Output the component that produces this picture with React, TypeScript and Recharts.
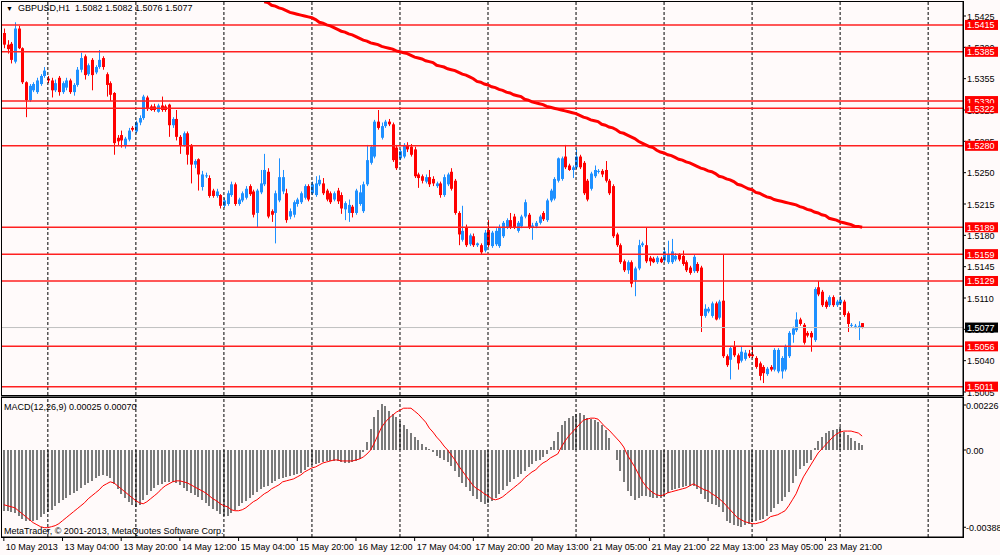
import React from 'react';
import { ComposedChart, Bar, Line, XAxis, YAxis, ReferenceLine } from 'recharts';

// GBPUSD H1 candles, [open, high, low, close]
const OHLC: number[][] = [
  [1.5406, 1.5411, 1.5389, 1.5393], [1.5393, 1.5398, 1.5383, 1.5388], [1.5394, 1.5396, 1.5372, 1.5376], [1.5374, 1.5418, 1.5372, 1.5411],
  [1.5411, 1.5414, 1.5388, 1.5389], [1.5389, 1.539, 1.5349, 1.5351], [1.5351, 1.5352, 1.5312, 1.5331], [1.5331, 1.5349, 1.5329, 1.5347],
  [1.5342, 1.5351, 1.534, 1.5349], [1.534, 1.5356, 1.5338, 1.5353], [1.5349, 1.536, 1.5347, 1.5358], [1.5358, 1.5368, 1.5356, 1.5364],
  [1.5355, 1.5358, 1.535, 1.5353], [1.5353, 1.5356, 1.5334, 1.5342], [1.5342, 1.5354, 1.534, 1.535], [1.5356, 1.5358, 1.5336, 1.534],
  [1.534, 1.5352, 1.5338, 1.535], [1.5345, 1.5356, 1.5342, 1.5353], [1.5353, 1.5355, 1.5338, 1.534], [1.534, 1.535, 1.5336, 1.5348],
  [1.5348, 1.5368, 1.5346, 1.5365], [1.5365, 1.5384, 1.5362, 1.5378], [1.538, 1.5382, 1.5354, 1.5359], [1.536, 1.5372, 1.5358, 1.537],
  [1.5376, 1.5378, 1.5342, 1.5359], [1.5362, 1.537, 1.536, 1.5368], [1.5368, 1.5387, 1.5366, 1.5376], [1.5378, 1.538, 1.5365, 1.5368],
  [1.536, 1.5362, 1.5335, 1.5348], [1.535, 1.5352, 1.533, 1.5337], [1.5339, 1.534, 1.527, 1.5283], [1.5289, 1.5292, 1.528, 1.5285],
  [1.5292, 1.5297, 1.5278, 1.5286], [1.528, 1.529, 1.5277, 1.5288], [1.5287, 1.53, 1.5285, 1.5297], [1.53, 1.5302, 1.5296, 1.5298],
  [1.5296, 1.5308, 1.5294, 1.5306], [1.5306, 1.5314, 1.5303, 1.5311], [1.5311, 1.5337, 1.5309, 1.5335], [1.5334, 1.5336, 1.5319, 1.5321],
  [1.5324, 1.5326, 1.5319, 1.532], [1.5324, 1.5327, 1.5318, 1.532], [1.5318, 1.5327, 1.5317, 1.5325], [1.5325, 1.5335, 1.5318, 1.532],
  [1.5324, 1.5326, 1.5318, 1.532], [1.5326, 1.5327, 1.529, 1.5303], [1.5303, 1.5312, 1.53, 1.531], [1.531, 1.532, 1.5286, 1.529],
  [1.529, 1.5292, 1.5271, 1.528], [1.5281, 1.5296, 1.5279, 1.5294], [1.5294, 1.5296, 1.5259, 1.527], [1.5281, 1.5282, 1.5238, 1.5259],
  [1.5259, 1.5265, 1.5255, 1.5263], [1.5265, 1.5266, 1.523, 1.5248], [1.5234, 1.5252, 1.523, 1.5248], [1.5246, 1.525, 1.5244, 1.5247],
  [1.5244, 1.5247, 1.5222, 1.5224], [1.523, 1.5232, 1.5222, 1.5224], [1.5224, 1.5232, 1.5222, 1.5229], [1.5225, 1.5226, 1.521, 1.5213],
  [1.5213, 1.5222, 1.5211, 1.5219], [1.5215, 1.523, 1.5213, 1.5227], [1.5225, 1.524, 1.5223, 1.5237], [1.5237, 1.5239, 1.5213, 1.5215],
  [1.5215, 1.5222, 1.5213, 1.522], [1.5219, 1.5229, 1.5217, 1.5227], [1.5222, 1.5235, 1.522, 1.5232], [1.5235, 1.5237, 1.5224, 1.5226],
  [1.5229, 1.5231, 1.52, 1.5203], [1.5205, 1.5232, 1.5189, 1.523], [1.5228, 1.5253, 1.5226, 1.5238], [1.5237, 1.5271, 1.5235, 1.5253],
  [1.5251, 1.5255, 1.5199, 1.5201], [1.5207, 1.5209, 1.5195, 1.5203], [1.5205, 1.523, 1.5171, 1.5227], [1.5219, 1.5266, 1.5217, 1.5245],
  [1.5229, 1.5253, 1.5226, 1.5245], [1.5227, 1.5232, 1.5194, 1.5197], [1.5201, 1.521, 1.5198, 1.5207], [1.5203, 1.5219, 1.52, 1.5217],
  [1.5215, 1.5222, 1.5212, 1.522], [1.5217, 1.5229, 1.5215, 1.5227], [1.5222, 1.5237, 1.522, 1.5235], [1.5235, 1.5237, 1.5218, 1.522],
  [1.5227, 1.524, 1.5225, 1.5237], [1.5225, 1.5246, 1.5223, 1.5238], [1.5237, 1.5247, 1.5235, 1.5242], [1.5238, 1.5244, 1.5225, 1.5227],
  [1.523, 1.5232, 1.5218, 1.522], [1.5227, 1.5229, 1.5215, 1.5217], [1.522, 1.5229, 1.5218, 1.5227], [1.523, 1.5233, 1.5215, 1.5218],
  [1.5225, 1.5228, 1.5204, 1.521], [1.5209, 1.5218, 1.5197, 1.5216], [1.5205, 1.522, 1.5195, 1.5214], [1.5212, 1.5214, 1.52, 1.5205],
  [1.5205, 1.5232, 1.5203, 1.523], [1.5215, 1.5236, 1.5213, 1.5228], [1.5207, 1.524, 1.5205, 1.5237], [1.5237, 1.5281, 1.5235, 1.5264],
  [1.5261, 1.5281, 1.5259, 1.5279], [1.5268, 1.5309, 1.5266, 1.5307], [1.5307, 1.532, 1.5298, 1.53], [1.5289, 1.5306, 1.5287, 1.5302],
  [1.5302, 1.5309, 1.53, 1.5307], [1.5307, 1.531, 1.5302, 1.5304], [1.5304, 1.5306, 1.5262, 1.5264], [1.5278, 1.5281, 1.5253, 1.5255],
  [1.5266, 1.5276, 1.5264, 1.5274], [1.5268, 1.5283, 1.5266, 1.5281], [1.5281, 1.5284, 1.5273, 1.5276], [1.5279, 1.5282, 1.5268, 1.527],
  [1.5276, 1.5279, 1.5244, 1.5246], [1.5248, 1.525, 1.5233, 1.5244], [1.5246, 1.5248, 1.5238, 1.5241], [1.524, 1.5248, 1.5238, 1.5245],
  [1.5245, 1.5253, 1.5234, 1.5237], [1.5243, 1.5246, 1.5235, 1.5238], [1.5235, 1.524, 1.5233, 1.5238], [1.5238, 1.524, 1.5222, 1.5225],
  [1.5225, 1.5248, 1.5223, 1.5245], [1.5237, 1.525, 1.5235, 1.5248], [1.5251, 1.5255, 1.523, 1.5232], [1.5241, 1.5243, 1.5203, 1.5205],
  [1.5205, 1.5207, 1.5169, 1.5181], [1.5175, 1.5213, 1.5173, 1.5185], [1.5189, 1.5192, 1.5167, 1.5169], [1.517, 1.5182, 1.5168, 1.518],
  [1.5179, 1.5182, 1.5167, 1.5169], [1.5169, 1.5172, 1.5167, 1.5171], [1.5169, 1.5171, 1.5158, 1.5161], [1.5163, 1.5186, 1.5161, 1.5183],
  [1.5186, 1.5197, 1.5167, 1.5169], [1.5168, 1.5185, 1.5166, 1.5183], [1.517, 1.5188, 1.5168, 1.5185], [1.5168, 1.5192, 1.5166, 1.5189],
  [1.5179, 1.5196, 1.5177, 1.5194], [1.5189, 1.5199, 1.5187, 1.5197], [1.5197, 1.5205, 1.5187, 1.5189], [1.5201, 1.5204, 1.5187, 1.5189],
  [1.5185, 1.5196, 1.5183, 1.5194], [1.519, 1.5203, 1.5188, 1.5201], [1.5201, 1.522, 1.5199, 1.5217], [1.5203, 1.5205, 1.5187, 1.5189],
  [1.5189, 1.5194, 1.5175, 1.5191], [1.519, 1.5196, 1.5188, 1.5194], [1.5194, 1.5203, 1.5192, 1.5201], [1.5205, 1.5207, 1.5196, 1.5198],
  [1.5197, 1.5221, 1.5195, 1.5219], [1.5219, 1.5232, 1.5217, 1.523], [1.5221, 1.5245, 1.5219, 1.5243], [1.5241, 1.5267, 1.5239, 1.5266],
  [1.5243, 1.5268, 1.5241, 1.5266], [1.5268, 1.5281, 1.5254, 1.5256], [1.5258, 1.526, 1.5252, 1.5253], [1.5253, 1.5258, 1.5244, 1.5256],
  [1.5256, 1.5276, 1.5254, 1.5268], [1.5268, 1.527, 1.5254, 1.5256], [1.5261, 1.5263, 1.5225, 1.5227], [1.5241, 1.5243, 1.5218, 1.522],
  [1.5232, 1.5251, 1.523, 1.5249], [1.5246, 1.5258, 1.5244, 1.5253], [1.5251, 1.5254, 1.5249, 1.5252], [1.5252, 1.5254, 1.5245, 1.5248],
  [1.5253, 1.5263, 1.5239, 1.5241], [1.5241, 1.5243, 1.5225, 1.5227], [1.5235, 1.5237, 1.5177, 1.5179], [1.5181, 1.5183, 1.5167, 1.5169],
  [1.5169, 1.5171, 1.5148, 1.515], [1.5151, 1.5153, 1.5139, 1.5141], [1.5141, 1.5152, 1.5137, 1.515], [1.515, 1.5152, 1.5122, 1.5126],
  [1.513, 1.5145, 1.5112, 1.5143], [1.5143, 1.5175, 1.5141, 1.5169], [1.5169, 1.5173, 1.5167, 1.5171], [1.5169, 1.5189, 1.5149, 1.5151],
  [1.5155, 1.5157, 1.5146, 1.5151], [1.5154, 1.5156, 1.5149, 1.515], [1.515, 1.5157, 1.5148, 1.5155], [1.5154, 1.5156, 1.5149, 1.515],
  [1.5152, 1.5166, 1.515, 1.5162], [1.515, 1.5174, 1.5148, 1.5158], [1.515, 1.5176, 1.5148, 1.5162], [1.5153, 1.516, 1.5151, 1.5157],
  [1.5158, 1.516, 1.5151, 1.5153], [1.5157, 1.5163, 1.5146, 1.5148], [1.515, 1.5152, 1.5139, 1.5141], [1.5144, 1.5146, 1.5136, 1.5138],
  [1.514, 1.5158, 1.5138, 1.5156], [1.5148, 1.515, 1.5138, 1.514], [1.5144, 1.5146, 1.5072, 1.509], [1.509, 1.5103, 1.5088, 1.5098],
  [1.5095, 1.51, 1.5093, 1.5098], [1.509, 1.5106, 1.5088, 1.5104], [1.5104, 1.5106, 1.5085, 1.5086], [1.5088, 1.5108, 1.5086, 1.5106],
  [1.5107, 1.5158, 1.5043, 1.5045], [1.5045, 1.5047, 1.5033, 1.5035], [1.5041, 1.5056, 1.5019, 1.5054], [1.5056, 1.5062, 1.5044, 1.5046],
  [1.5046, 1.5048, 1.503, 1.5037], [1.504, 1.5056, 1.5038, 1.505], [1.5042, 1.5052, 1.504, 1.5049], [1.5048, 1.5052, 1.5043, 1.5045],
  [1.5047, 1.5056, 1.5043, 1.5045], [1.5043, 1.5045, 1.5031, 1.5033], [1.5037, 1.5039, 1.5018, 1.5023], [1.5033, 1.5035, 1.5015, 1.5026],
  [1.5025, 1.5033, 1.5023, 1.5031], [1.5033, 1.5035, 1.5028, 1.503], [1.503, 1.5054, 1.5028, 1.5052], [1.5028, 1.5054, 1.5026, 1.5052],
  [1.5028, 1.5045, 1.502, 1.5043], [1.503, 1.5058, 1.5028, 1.5056], [1.5045, 1.5073, 1.5043, 1.5071], [1.5069, 1.5078, 1.506, 1.5076],
  [1.5074, 1.5094, 1.5072, 1.5086], [1.5086, 1.5088, 1.5079, 1.5081], [1.508, 1.5082, 1.5058, 1.506], [1.5071, 1.5073, 1.5066, 1.5068],
  [1.5071, 1.5073, 1.505, 1.5066], [1.5063, 1.5122, 1.5061, 1.512], [1.5122, 1.5129, 1.5112, 1.5114], [1.5117, 1.5119, 1.51, 1.5102],
  [1.5106, 1.5108, 1.5098, 1.51], [1.5102, 1.5113, 1.51, 1.5111], [1.5111, 1.5113, 1.51, 1.5102], [1.5102, 1.5108, 1.51, 1.5106],
  [1.5104, 1.5112, 1.5102, 1.5108], [1.5106, 1.5108, 1.5089, 1.5091], [1.5093, 1.5095, 1.5072, 1.5081], [1.5079, 1.5082, 1.5077, 1.508],
  [1.5078, 1.5081, 1.5076, 1.5079], [1.5077, 1.5084, 1.5063, 1.5079], [1.5082, 1.5082, 1.5076, 1.5077],
];

// moving average, visible from bar 71 on (it runs off the top before that)
const MA_START = 71;
const MA = [
  1.5441, 1.544, 1.5437, 1.5436, 1.5434, 1.5433, 1.5431, 1.5429, 1.5428, 1.5427,
  1.5426, 1.5425, 1.5424, 1.5423, 1.5421, 1.5418, 1.5417, 1.5415, 1.5414, 1.5412,
  1.541, 1.5408, 1.5407, 1.5405, 1.5404, 1.5402, 1.54, 1.5398, 1.5397, 1.5395,
  1.5394, 1.5393, 1.5391, 1.539, 1.5389, 1.5388, 1.5386, 1.5385, 1.5384, 1.5383,
  1.5381, 1.5379, 1.5378, 1.5377, 1.5375, 1.5374, 1.5373, 1.537, 1.5369, 1.5368,
  1.5366, 1.5365, 1.5364, 1.5362, 1.536, 1.5359, 1.5357, 1.5355, 1.5352, 1.5351,
  1.5349, 1.5348, 1.5346, 1.5345, 1.5343, 1.5342, 1.534, 1.5339, 1.5337, 1.5336,
  1.5335, 1.5332, 1.5331, 1.5329, 1.5328, 1.5327, 1.5326, 1.5324, 1.5323, 1.5322,
  1.5321, 1.532, 1.5319, 1.5318, 1.5317, 1.5316, 1.5314, 1.5312, 1.5311, 1.5309,
  1.5308, 1.5307, 1.5304, 1.5303, 1.5301, 1.53, 1.5298, 1.5295, 1.5294, 1.5292,
  1.529, 1.5288, 1.5285, 1.5283, 1.5281, 1.5279, 1.5278, 1.5275, 1.5273, 1.5272,
  1.527, 1.5269, 1.5267, 1.5265, 1.5264, 1.5262, 1.5261, 1.5259, 1.5257, 1.5255,
  1.5254, 1.5252, 1.5251, 1.5249, 1.5246, 1.5245, 1.5243, 1.5242, 1.524, 1.5237,
  1.5236, 1.5234, 1.5232, 1.5231, 1.5228, 1.5227, 1.5225, 1.5223, 1.5222, 1.522,
  1.5219, 1.5218, 1.5217, 1.5216, 1.5215, 1.5214, 1.5212, 1.5211, 1.5209, 1.5208,
  1.5206, 1.5205, 1.5203, 1.5202, 1.5199, 1.5198, 1.5197, 1.5195, 1.5194, 1.5193,
  1.5192, 1.519, 1.519, 1.5189,
];

// MACD(12,26,9) main and signal, in units of 0.00001
const MACD_E5 = [
  -305, -305, -310, -315, -330, -345, -355, -355, -355, -350,
  -335, -320, -310, -300, -280, -265, -250, -240, -225, -215,
  -205, -190, -175, -165, -155, -140, -130, -125, -130, -140,
  -170, -195, -220, -240, -260, -275, -285, -275, -250, -225,
  -205, -190, -175, -170, -160, -160, -160, -165, -175, -190,
  -205, -215, -225, -235, -250, -265, -280, -295, -305, -320,
  -330, -330, -315, -300, -280, -265, -255, -240, -225, -210,
  -195, -185, -180, -165, -155, -145, -140, -135, -130, -125,
  -120, -115, -100, -85, -75, -70, -65, -60, -55, -55,
  -55, -55, -60, -65, -65, -60, -55, -45, -10, 40,
  105, 165, 200, 230, 220, 195, 180, 165, 145, 125,
  105, 85, 65, 50, 30, 15, 5, -10, -30, -40,
  -50, -60, -80, -105, -135, -165, -185, -205, -230, -245,
  -260, -270, -265, -255, -240, -220, -200, -180, -160, -145,
  -135, -120, -105, -85, -70, -55, -50, -35, -20, 15,
  45, 90, 125, 145, 160, 170, 180, 185, 175, 160,
  155, 150, 140, 125, 100, 60, 0, -50, -105, -160,
  -205, -230, -250, -240, -230, -230, -235, -240, -240, -240,
  -230, -215, -200, -195, -190, -185, -180, -180, -180, -195,
  -220, -245, -260, -270, -275, -285, -310, -355, -365, -375,
  -380, -385, -375, -370, -360, -355, -350, -345, -330, -310,
  -290, -270, -255, -235, -210, -165, -130, -95, -80, -65,
  -50, 10, 45, 65, 85, 95, 100, 105, 115, 90,
  75, 60, 45, 35, 25,
];
const SIGNAL_E5 = [
  -275, -280, -285, -290, -305, -320, -335, -350, -365, -375,
  -385, -390, -390, -385, -380, -370, -355, -340, -325, -310,
  -295, -280, -265, -245, -230, -215, -200, -180, -170, -160,
  -165, -180, -195, -210, -225, -240, -255, -265, -270, -260,
  -245, -230, -215, -195, -180, -170, -160, -155, -155, -160,
  -165, -175, -185, -195, -205, -215, -230, -245, -255, -270,
  -280, -285, -300, -305, -305, -300, -290, -275, -260, -250,
  -235, -220, -210, -195, -185, -175, -160, -155, -150, -145,
  -135, -125, -110, -100, -90, -85, -75, -65, -60, -55,
  -50, -50, -55, -55, -55, -55, -50, -45, -35, -20,
  0, 35, 75, 115, 140, 160, 175, 190, 200, 210,
  210, 210, 195, 180, 160, 140, 110, 90, 65, 45,
  20, 0, -25, -50, -80, -105, -130, -155, -180, -195,
  -205, -220, -230, -245, -250, -245, -235, -220, -205, -190,
  -175, -160, -140, -125, -110, -100, -80, -65, -55, -40,
  -30, -20, 15, 45, 70, 90, 110, 130, 150, 155,
  160, 160, 155, 135, 115, 100, 80, 60, 40, 15,
  -25, -55, -85, -120, -155, -180, -200, -215, -225, -230,
  -225, -215, -210, -205, -200, -195, -190, -180, -170, -180,
  -190, -200, -205, -220, -230, -245, -260, -280, -300, -320,
  -340, -350, -360, -365, -370, -370, -365, -360, -350, -335,
  -330, -325, -315, -305, -280, -250, -220, -175, -135, -105,
  -75, -45, -15, 5, 25, 45, 65, 80, 90, 95,
  95, 95, 90, 85, 70,
];

const LEVELS = [1.5415, 1.5385, 1.533, 1.5322, 1.528, 1.5189, 1.5159, 1.5129, 1.5056, 1.5011];
const PRICE_TICKS = [1.5425, 1.539, 1.5355, 1.532, 1.5285, 1.525, 1.5215, 1.518, 1.5145, 1.511, 1.5075, 1.504, 1.5005];
const MACD_TICKS = [0.00226, 0, -0.00388];
const TIME_LABELS: [number, string][] = [
  [0, '10 May 2013'], [16, '13 May 04:00'], [32, '13 May 20:00'], [48, '14 May 12:00'],
  [64, '15 May 04:00'], [80, '15 May 20:00'], [96, '16 May 12:00'], [112, '17 May 04:00'],
  [128, '17 May 20:00'], [144, '20 May 13:00'], [160, '21 May 05:00'], [176, '21 May 21:00'],
  [192, '22 May 13:00'], [208, '23 May 05:00'], [224, '23 May 21:00'],
];
const GRID_AT = [12, 36, 60, 84, 108, 132, 156, 180, 204, 228, 252];
const SLOTS = 262; // bars plus empty space on the right

const FONT = '"Liberation Sans", Arial, sans-serif';
const BULL = '#1e90ff';
const BEAR = '#ff0000';
const BG = '#fffafa';

const rows = Array.from({ length: SLOTS }, (_, i) => {
  const k = OHLC[i];
  return {
    i,
    range: k ? [k[2], k[1]] : null,
    o: k ? k[0] : null,
    h: k ? k[1] : null,
    l: k ? k[2] : null,
    c: k ? k[3] : null,
    ma: i >= MA_START && i - MA_START < MA.length ? MA[i - MA_START] : null,
    macd: i < MACD_E5.length ? MACD_E5[i] / 1e5 : null,
    signal: i < SIGNAL_E5.length ? SIGNAL_E5[i] / 1e5 : null,
  };
});

const last = OHLC[OHLC.length - 1];
const lastClose = last[3];
const lastMacd = MACD_E5[MACD_E5.length - 1] / 1e5;
const lastSignal = SIGNAL_E5[SIGNAL_E5.length - 1] / 1e5;
// scale ticks first, price tags last so the tags sit on top
const AXIS_TICKS = [...PRICE_TICKS, ...LEVELS, lastClose];

const Candle = (props: any) => {
  const { x, y, width, height, payload } = props;
  if (!payload || payload.o == null) return <g />;
  const { o, h, l, c } = payload;
  const top = Math.min(y, y + height);
  const span = Math.abs(height);
  const py = (v: number) => (h === l ? top : top + ((h - v) / (h - l)) * span);
  const cx = Math.round(x + width / 2) + 0.5;
  const color = c >= o ? BULL : BEAR;
  const b1 = py(Math.max(o, c));
  const b2 = py(Math.min(o, c));
  return (
    <g>
      <line x1={cx} x2={cx} y1={top} y2={top + Math.max(span, 1)} stroke={color} strokeWidth={1} />
      <rect x={cx - 1.5} y={b1} width={3} height={Math.max(1, b2 - b1)} fill={color} />
    </g>
  );
};

const HistBar = (props: any) => {
  const { x, y, width, height } = props;
  if (height == null || !isFinite(height)) return <g />;
  const top = Math.min(y, y + height);
  return (
    <rect
      x={Math.round(x + width / 2) - 1}
      y={top}
      width={2}
      height={Math.abs(height)}
      fill="#7a7a7a"
      shapeRendering="crispEdges"
    />
  );
};

const PriceTick = (props: any) => {
  const { x, y, payload } = props;
  const v = payload.value as number;
  const isLevel = LEVELS.includes(v);
  if (isLevel || v === lastClose) {
    return (
      <g>
        <rect x={x + 2} y={y - 5} width={33} height={10} fill={isLevel ? '#ff0000' : '#000'} />
        <text x={x + 4} y={y + 3.5} fill="#fff" fontSize={9} fontFamily={FONT}>
          {v.toFixed(4)}
        </text>
      </g>
    );
  }
  return (
    <g>
      <line x1={x} x2={x + 3} y1={y} y2={y} stroke="#000" />
      <text x={x + 4} y={y + 3.5} fill="#000" fontSize={9} fontFamily={FONT}>
        {v.toFixed(4)}
      </text>
    </g>
  );
};

const MacdTick = (props: any) => {
  const { x, y, payload } = props;
  const v = payload.value as number;
  return (
    <g>
      <line x1={x} x2={x + 3} y1={y} y2={y} stroke="#000" />
      <text x={x + 3} y={y + 3.5} fill="#000" fontSize={9} fontFamily={FONT}>
        {v === 0 ? '0.00' : v.toFixed(5)}
      </text>
    </g>
  );
};

const TimeTick = (props: any) => {
  const { x, y, payload } = props;
  const hit = TIME_LABELS.find((t) => t[0] === payload.value);
  if (!hit) return <g />;
  return (
    <g>
      <line x1={x} x2={x} y1={y - 3} y2={y + 1} stroke="#000" />
      <text x={x + 2} y={y + 10} fontSize={9} fontFamily={FONT} fill="#000">
        {hit[1]}
      </text>
    </g>
  );
};

const grid = (id: string) =>
  GRID_AT.map((g) => <ReferenceLine key={id + g} x={g} stroke="#000" strokeDasharray="3 2" />);

const textStyle: React.CSSProperties = {
  position: 'absolute',
  fontFamily: FONT,
  fontSize: 9,
  lineHeight: '11px',
  color: '#000',
  whiteSpace: 'pre',
};

export default function App() {
  return (
    <div style={{ position: 'fixed', left: 0, top: 0, width: 1000, height: 555, background: BG, overflow: 'hidden' }}>
      <div style={{ position: 'absolute', left: 0, top: 0 }}>
        <ComposedChart width={1000} height={397} data={rows} margin={{ top: 2, right: 0, bottom: 2, left: 2 }} barCategoryGap={0}>
          <XAxis dataKey="i" hide />
          <YAxis
            orientation="right"
            type="number"
            width={37}
            domain={[1.500165, 1.544064]}
            allowDataOverflow
            ticks={AXIS_TICKS}
            interval={0}
            tick={<PriceTick />}
            tickSize={0}
            tickMargin={0}
            axisLine={{ stroke: '#000' }}
            tickLine={false}
          />
          {grid('m')}
          {LEVELS.map((v) => (
            <ReferenceLine key={v} y={v} stroke="#ff2020" strokeWidth={1.5} />
          ))}
          <ReferenceLine y={lastClose} stroke="#c0c0c0" />
          <Bar dataKey="range" shape={<Candle />} isAnimationActive={false} />
          <Line dataKey="ma" stroke="#ff0000" strokeWidth={3} dot={false} connectNulls={false} isAnimationActive={false} />
        </ComposedChart>
      </div>
      <div style={{ position: 'absolute', left: 0, top: 397 }}>
        <ComposedChart width={1000} height={158} data={rows} margin={{ top: 1, right: 0, bottom: 0, left: 2 }} barCategoryGap={0}>
          <XAxis
            dataKey="i"
            interval={0}
            height={18}
            tick={<TimeTick />}
            tickLine={false}
            tickSize={3}
            tickMargin={0}
            axisLine={{ stroke: '#000' }}
          />
          <YAxis
            orientation="right"
            type="number"
            width={37}
            domain={[-0.004369, 0.002612]}
            allowDataOverflow
            ticks={MACD_TICKS}
            interval={0}
            tick={<MacdTick />}
            tickSize={0}
            tickMargin={0}
            axisLine={{ stroke: '#000' }}
            tickLine={false}
          />
          {grid('d')}
          <Bar dataKey="macd" shape={<HistBar />} isAnimationActive={false} />
          <Line dataKey="signal" stroke="#ff0000" strokeWidth={1} dot={false} isAnimationActive={false} />
        </ComposedChart>
      </div>
      <div style={{ position: 'absolute', left: 1, top: 1, width: 963, height: 395, border: '1px solid #000', boxSizing: 'border-box', pointerEvents: 'none' }} />
      <div style={{ position: 'absolute', left: 1, top: 396, width: 963, height: 2, background: '#606060' }} />
      <div style={{ position: 'absolute', left: 1, top: 397, width: 963, height: 141, border: '1px solid #000', boxSizing: 'border-box', pointerEvents: 'none' }} />
      <div style={{ ...textStyle, left: 6, top: 3 }}>
        <span style={{ fontSize: 7 }}>▼</span>
        {`  GBPUSD,H1  ${last.map((v) => v.toFixed(4)).join(' ')}`}
      </div>
      <div style={{ ...textStyle, left: 4, top: 402 }}>{`MACD(12,26,9) ${lastMacd.toFixed(5)} ${lastSignal.toFixed(5)}`}</div>
      <div style={{ ...textStyle, left: 4, top: 526 }}>MetaTrader, © 2001-2013, MetaQuotes Software Corp.</div>
    </div>
  );
}
